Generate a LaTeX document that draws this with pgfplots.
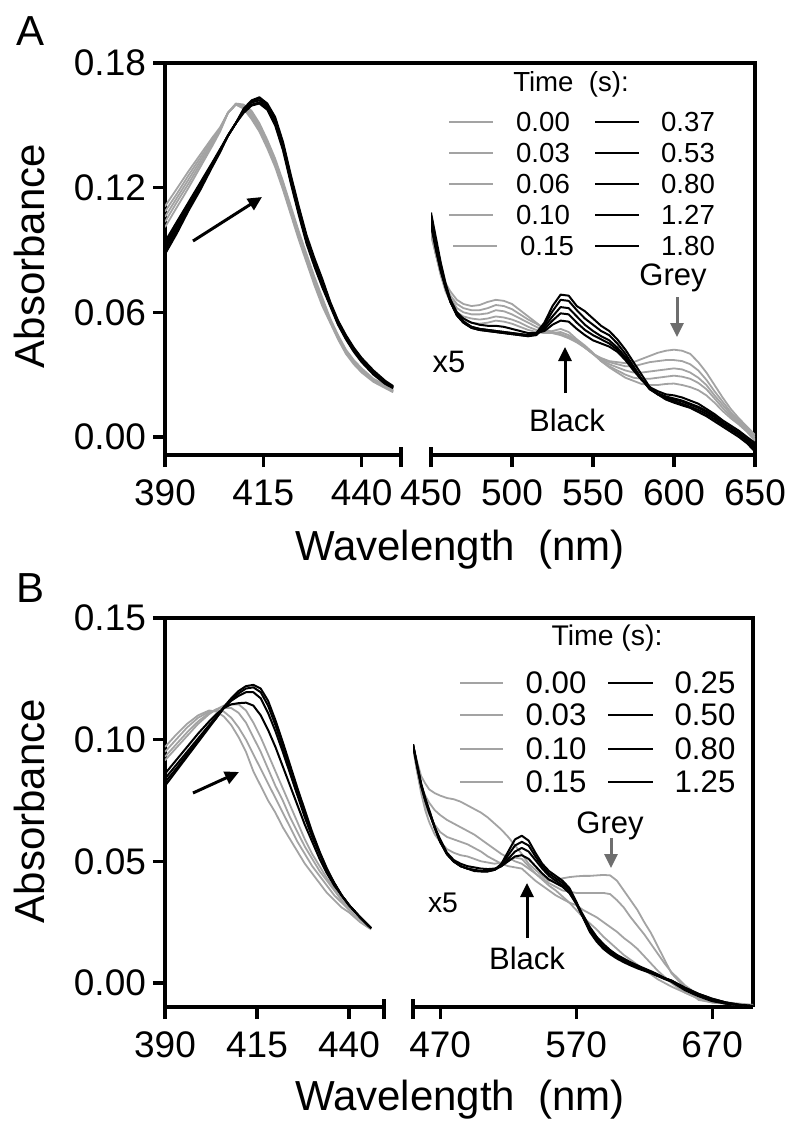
\documentclass[border=0pt]{standalone}
\usepackage{fontspec}
\setmainfont{Liberation Sans}
\usepackage{pgfplots}
\usepackage{pgfplotstable}
\pgfplotsset{compat=1.18}
\usetikzlibrary{arrows.meta}

\definecolor{gcurve}{HTML}{A3A3A3}
\definecolor{garrow}{HTML}{6E6E6E}

% panel A, Soret region
\pgfplotstableread{
l   g1    g2    g3    g4    g5    k1    k2    k3    k4    k5
390 .111  .1085 .106  .1035 .101  .094  .0925 .091  .0895 .088
393 .1195 .117  .115  .113  .1105 .1035 .102  .101  .0995 .098
396 .128  .126  .124  .122  .120  .113  .112  .111  .110  .109
399 .136  .1345 .133  .1315 .130  .1225 .122  .121  .120  .119
402 .144  .143  .142  .141  .140  .132  .1315 .131  .1305 .130
404 .149  .1485 .148  .1475 .147  .1385 .138  .138  .1375 .137
406 .156  .156  .156  .156  .156  .145  .145  .145  .145  .145
408 .160  .160  .160  .160  .1605 .151  .151  .151  .151  .151
410 .158  .1585 .159  .1595 .160  .156  .1565 .157  .1575 .158
412 .153  .154  .155  .156  .157  .1595 .160  .161  .1615 .162
414 .147  .148  .149  .150  .151  .1605 .161  .162  .163  .1635
416 .139  .140  .141  .142  .143  .1575 .158  .159  .160  .1605
418 .130  .131  .132  .133  .134  .150  .151  .152  .153  .154
420 .119  .120  .121  .122  .123  .138  .139  .140  .141  .142
422 .107  .108  .109  .110  .111  .122  .123  .124  .125  .126
424 .095  .096  .097  .098  .099  .107  .108  .109  .110  .111
426 .084  .085  .086  .087  .088  .093  .094  .095  .096  .097
428 .073  .074  .075  .076  .077  .082  .083  .084  .085  .086
430 .063  .064  .065  .066  .067  .072  .073  .074  .075  .076
432 .055  .0555 .056  .0565 .057  .063  .0635 .064  .0645 .065
434 .047  .0475 .048  .0485 .049  .054  .0545 .055  .0555 .056
436 .040  .0405 .041  .0415 .042  .047  .0475 .048  .0485 .049
438 .035  .0355 .036  .0365 .037  .041  .0415 .042  .0425 .043
440 .031  .0315 .032  .0325 .033  .036  .0365 .037  .0375 .038
443 .0265 .027  .027  .0275 .028  .030  .0305 .031  .0315 .032
446 .0235 .024  .024  .0245 .025  .0255 .0258 .026  .0265 .027
448 .0215 .022  .022  .0225 .023  .0235 .0238 .024  .0242 .0245
}\tAleft

% panel A, visible region (x5)
\pgfplotstableread{
l   g1    g2    g3    g4    g5    k1    k2    k3    k4    k5
450 .097  .098  .099  .100  .101  .102  .103  .105  .106  .108
453 .088  .088  .088  .088  .088  .090  .091  .093  .094  .096
456 .080  .080  .079  .078  .078  .080  .080  .081  .082  .084
459 .074  .073  .072  .071  .070  .072  .072  .072  .073  .074
462 .070  .068  .067  .066  .065  .066  .065  .065  .065  .066
466 .066  .064  .062  .060  .059  .060  .059  .0585 .0585 .059
470 .064  .062  .060  .058  .056  .057  .0555 .055  .055  .0555
475 .063  .061  .059  .057  .055  .055  .053  .0525 .0525 .053
480 .0635 .061  .059  .0565 .0545 .054  .052  .0515 .0515 .052
485 .065  .062  .0595 .057  .055  .0535 .0515 .051  .051  .0515
490 .066  .0635 .061  .058  .056  .0535 .051  .0505 .0505 .051
495 .0655 .063  .0605 .0575 .0555 .053  .0505 .050  .050  .0505
500 .064  .0615 .059  .0565 .0545 .052  .050  .0495 .0495 .050
505 .061  .059  .057  .055  .053  .051  .0495 .049  .049  .0495
510 .058  .0565 .055  .053  .0515 .050  .049  .0485 .0485 .049
515 .055  .0545 .053  .0515 .0505 .050  .0495 .049  .0495 .050
520 .052  .052  .051  .050  .050  .051  .052  .053  .054  .055
525 .050  .0505 .050  .050  .051  .054  .056  .058  .0605 .063
530 .049  .0495 .0495 .0505 .052  .056  .0595 .0625 .066  .0685
535 .0475 .048  .048  .049  .0505 .0555 .059  .062  .0655 .068
540 .0455 .046  .046  .0465 .047  .052  .055  .058  .061  .063
545 .043  .043  .043  .0435 .044  .049  .0515 .054  .057  .0605
550 .040  .040  .040  .040  .0405 .0465 .049  .051  .054  .057
555 .038  .0375 .037  .0365 .0365 .045  .047  .0485 .051  .0535
560 .0365 .036  .035  .034  .0335 .0435 .045  .0465 .049  .051
565 .036  .035  .0335 .032  .031  .041  .042  .043  .045  .047
570 .0355 .034  .032  .030  .0285 .037  .038  .0385 .040  .042
575 .036  .034  .031  .0285 .027  .032  .0325 .033  .034  .036
580 .0375 .035  .031  .028  .0255 .0275 .0275 .0278 .028  .030
585 .039  .036  .0315 .028  .025  .024  .0235 .023  .023  .024
590 .0405 .0365 .032  .0285 .025  .022  .021  .0205 .0205 .0205
595 .0415 .037  .0325 .029  .0255 .0205 .0195 .019  .0185 .018
600 .042  .037  .033  .0295 .0257 .020  .0185 .018  .0172 .0165
605 .0415 .0365 .0325 .029  .025  .019  .0175 .017  .016  .0152
610 .040  .035  .031  .028  .024  .0175 .016  .0155 .0145 .014
615 .036  .032  .0285 .026  .0225 .016  .0145 .014  .013  .012
620 .031  .0275 .025  .023  .020  .0135 .0125 .012  .011  .010
625 .025  .022  .020  .0185 .0165 .011  .010  .0095 .0085 .0075
630 .019  .017  .0155 .014  .0125 .008  .007  .0065 .006  .005
635 .0135 .012  .011  .010  .009  .0055 .0045 .004  .0035 .0025
640 .009  .008  .007  .0065 .006  .003  .002  .0015 .001  .000
645 .005  .004  .0035 .003  .0025 .000  -.001 -.0015 -.002 -.003
650 .001  .000  -.001 -.0015 -.002 -.003 -.004 -.005 -.006 -.007
}\tAright

% panel B, Soret region
\pgfplotstableread{
l   g1    g2    g3    g4    k1    k2    k3    k4
390 .097  .095  .093  .0915 .086  .084  .0825 .081
393 .102  .100  .098  .0965 .0915 .0895 .088  .087
396 .1065 .105  .103  .1015 .097  .095  .094  .093
399 .110  .109  .1075 .1065 .1025 .1005 .0995 .099
402 .112  .1115 .111  .1105 .1075 .106  .1055 .105
404 .1115 .112  .1125 .1125 .1105 .1095 .109  .109
406 .1095 .1115 .113  .114  .113  .113  .113  .1135
408 .106  .109  .113  .1145 .1145 .116  .1165 .117
410 .101  .105  .111  .1145 .115  .118  .119  .120
412 .095  .100  .107  .112  .1152 .1195 .121  .122
414 .087  .094  .101  .107  .114  .1195 .1215 .1225
416 .081  .088  .095  .101  .110  .117  .1195 .121
418 .075  .082  .088  .094  .104  .111  .114  .116
420 .070  .076  .081  .087  .097  .1035 .106  .108
422 .064  .070  .075  .080  .089  .095  .097  .099
424 .059  .064  .068  .073  .081  .086  .088  .0895
426 .054  .058  .062  .066  .073  .077  .079  .080
428 .049  .053  .056  .059  .065  .068  .070  .071
430 .045  .048  .051  .053  .058  .060  .061  .062
432 .041  .044  .046  .048  .051  .053  .0535 .054
434 .037  .040  .042  .043  .045  .046  .0465 .047
436 .034  .036  .038  .039  .040  .041  .041  .041
438 .031  .033  .034  .035  .036  .036  .036  .036
440 .029  .030  .031  .032  .032  .032  .032  .032
443 .025  .026  .027  .027  .027  .027  .027  .027
446 .022  .0225 .0225 .0225 .0225 .0225 .0225 .0225
}\tBleft

% panel B, visible region (x5)
\pgfplotstableread{
l   g1    g2    g3    g4    k1    k2    k3    k4
450 .098  .097  .097  .097  .098  .098  .098  .098
453 .091  .088  .087  .087  .089  .089  .0895 .090
456 .085  .081  .079  .078  .081  .081  .0815 .082
459 .082  .077  .073  .071  .075  .075  .0755 .076
462 .0795 .074  .069  .066  .070  .070  .0705 .071
466 .078  .071  .065  .061  .064  .0635 .064  .064
470 .077  .069  .062  .058  .059  .058  .058  .058
475 .076  .067  .060  .055  .0535 .053  .053  .0528
480 .0755 .0655 .059  .0535 .0505 .050  .050  .0498
485 .0745 .064  .058  .0525 .049  .048  .048  .048
490 .073  .0625 .057  .052  .048  .047  .047  .047
495 .0715 .061  .0555 .051  .0475 .0465 .0463 .046
500 .070  .059  .054  .050  .047  .046  .046  .0458
505 .068  .057  .052  .0495 .0468 .046  .046  .0458
510 .0655 .055  .0505 .049  .047  .0465 .0465 .0465
515 .063  .053  .049  .0495 .048  .048  .0485 .049
520 .060  .0515 .048  .0505 .050  .051  .0525 .054
525 .0565 .050  .0475 .0515 .052  .054  .0565 .059
530 .053  .049  .047  .051  .0525 .0555 .058  .0605
535 .049  .047  .0445 .048  .051  .054  .0565 .0585
540 .0465 .045  .042  .045  .048  .0505 .052  .0535
545 .044  .043  .040  .0425 .045  .047  .048  .049
550 .042  .041  .038  .040  .0425 .044  .045  .046
555 .0425 .0395 .036  .038  .041  .042  .043  .044
560 .043  .038  .0345 .0355 .0395 .040  .041  .042
565 .0435 .0375 .033  .033  .037  .037  .038  .039
570 .0438 .037  .032  .030  .033  .0325 .033  .0335
575 .044  .037  .030  .027  .028  .027  .027  .027
580 .044  .037  .0285 .0245 .023  .022  .0215 .021
585 .0442 .037  .027  .022  .019  .018  .0175 .017
590 .0444 .037  .025  .019  .016  .015  .0145 .014
595 .0442 .0365 .023  .0165 .0135 .0127 .0122 .0118
600 .042  .034  .021  .014  .0115 .011  .0105 .010
605 .038  .031  .0185 .0115 .010  .0095 .009  .0085
610 .034  .027  .0164 .0095 .0085 .008  .0076 .0072
615 .030  .0235 .014  .0075 .0072 .0068 .0064 .006
620 .025  .020  .011  .0055 .006  .0056 .0053 .005
625 .0205 .016  .008  .0035 .0048 .0045 .0042 .004
630 .015  .012  .005  .0015 .0035 .0033 .003  .0028
635 .0095 .008  .0025 .000  .002  .002  .0018 .0016
640 .004  .0045 .000  -.0015 .001 .001  .0008 .0005
650 -.002 -.001 -.004 -.004 -.002 -.002 -.0025 -.003
660 -.007 -.005 -.0065 -.0065 -.0045 -.0045 -.005 -.0055
670 -.008 -.007 -.008 -.008 -.0065 -.0065 -.007 -.0075
680 -.0085 -.008 -.0085 -.0085 -.008 -.008 -.0085 -.0085
690 -.009 -.0085 -.009 -.009 -.009 -.009 -.009 -.0092
700 -.0092 -.009 -.0095 -.0095 -.0095 -.0095 -.0095 -.0097
}\tBright

\pgfplotsset{
  spec/.style={
    scale only axis,
    tick align=outside,
    major tick length=6pt,
    tick style={black, line width=1.6pt},
    axis line style={line width=1.6pt, -},
    every inner x axis line/.append style={-},
    every inner y axis line/.append style={-},
    every outer x axis line/.append style={-},
    every outer y axis line/.append style={-},
    tick label style={font=\fontsize{18.5}{20}\selectfont},
    xticklabel style={yshift=-3pt},
    every axis plot/.append style={no markers, line join=round},
  },
  gl/.style={gcurve, line width=0.9pt},
  kl/.style={black, line width=1pt},
}

\tikzset{
  lab/.style={font=\fontsize{21}{24}\selectfont},
  leg/.style={font=\fontsize{13.8}{15}\selectfont},
  ann/.style={font=\fontsize{15.5}{17}\selectfont},
  arr/.style={line width=1.5pt, -{Triangle[length=7pt,width=6.5pt]}},
}

\begin{document}
\begin{tikzpicture}[x=0.5pt, y=-0.5pt]
\path[use as bounding box] (0,0) rectangle (800,1136);

%%%%%%%%%% panel A
\begin{axis}[spec, at={(82.5pt,-227.5pt)}, anchor=south west,
  width=118pt, height=196pt,
  xmin=390, xmax=450, ymin=-0.0087, ymax=0.18,
  axis lines*=left,
  xtick={390,415,440}, xticklabels={390,415,440},
  ytick={0,0.06,0.12,0.18}, yticklabels={0.00,0.06,0.12,0.18}]
\foreach \c in {g1,g2,g3,g4,g5} {\addplot[gl] table[x=l,y=\c]{\tAleft};}
\foreach \c in {k1,k2,k3,k4,k5} {\addplot[kl] table[x=l,y=\c]{\tAleft};}
\end{axis}

\begin{axis}[spec, at={(215.5pt,-227.5pt)}, anchor=south west,
  width=162pt, height=196pt,
  xmin=450, xmax=650, ymin=-0.0087, ymax=0.18,
  axis x line*=bottom, axis y line*=right,
  xtick={450,500,550,600,650}, xticklabels={450,500,550,600,650},
  ytick=\empty]
\foreach \c in {g1,g2,g3,g4,g5} {\addplot[gl] table[x=l,y=\c]{\tAright};}
\foreach \c in {k1,k2,k3,k4,k5} {\addplot[kl] table[x=l,y=\c]{\tAright};}
\end{axis}

\draw[line width=1.6pt, line cap=rect] (165,63) -- (755,63);
\draw[line width=1.6pt] (401,447) -- (401,467);
\draw[line width=1.6pt] (431,447) -- (431,467);

\node[font=\fontsize{21}{24}\selectfont] at (31,31) {A};
\node[lab, rotate=90] at (29,256) {Absorbance};
\node[lab] at (460,550) {Wavelength\ \ (nm)};

\node[leg] at (571,84) {Time\ \ (s):};
\foreach \yy/\a/\b in {122/0.00/0.37, 153/0.03/0.53, 184/0.06/0.80, 215/0.10/1.27} {
  \draw[gcurve, line width=1pt] (449,\yy) -- (493,\yy);
  \node[leg] at (543,\yy) {\a};
  \draw[black, line width=1pt] (595,\yy) -- (639,\yy);
  \node[leg] at (688,\yy) {\b};
}
\draw[gcurve, line width=1pt] (453,246) -- (497,246);
\node[leg] at (547,246) {0.15};
\draw[black, line width=1pt] (595,246) -- (639,246);
\node[leg] at (688,246) {1.80};

\draw[arr] (193,241) -- (262,197);
\node[ann] at (449,362) {x5};
\draw[arr] (565,393) -- (565,347);
\node[ann] at (567,420) {Black};
\draw[arr, garrow] (677,297) -- (677,337);
\node[ann] at (673,278) {Grey};

%%%%%%%%%% panel B
\begin{axis}[spec, at={(82.5pt,-503.5pt)}, anchor=south west,
  width=109.5pt, height=194.5pt,
  xmin=390, xmax=449.5, ymin=-0.0099, ymax=0.15,
  axis lines*=left,
  xtick={390,415,440}, xticklabels={390,415,440},
  ytick={0,0.05,0.10,0.15}, yticklabels={0.00,0.05,0.10,0.15}]
\foreach \c in {g1,g2,g3,g4} {\addplot[gl] table[x=l,y=\c]{\tBleft};}
\foreach \c in {k1,k2,k3,k4} {\addplot[kl] table[x=l,y=\c]{\tBleft};}
\end{axis}

\begin{axis}[spec, at={(206.5pt,-503.5pt)}, anchor=south west,
  width=170pt, height=194.5pt,
  xmin=450, xmax=700, ymin=-0.0099, ymax=0.15,
  axis x line*=bottom, axis y line*=right,
  xtick={470,570,670}, xticklabels={470,570,670},
  ytick=\empty]
\foreach \c in {g1,g2,g3,g4} {\addplot[gl] table[x=l,y=\c]{\tBright};}
\foreach \c in {k1,k2,k3,k4} {\addplot[kl] table[x=l,y=\c]{\tBright};}
\end{axis}

\draw[line width=1.6pt, line cap=rect] (165,618) -- (753,618);
\draw[line width=1.6pt] (384,999) -- (384,1019);
\draw[line width=1.6pt] (413,999) -- (413,1019);

\node[font=\fontsize{21}{24}\selectfont] at (31,588) {B};
\node[lab, rotate=90] at (29,811) {Absorbance};
\node[lab] at (460,1100) {Wavelength\ \ (nm)};

\node[font=\fontsize{14.2}{16}\selectfont] at (607,638) {Time (s):};
\foreach \yy/\a/\b in {683/0.00/0.25, 715/0.03/0.50, 749/0.10/0.80, 782/0.15/1.25} {
  \draw[gcurve, line width=1pt] (460,\yy) -- (503,\yy);
  \node[font=\fontsize{15.6}{17}\selectfont] at (556,\yy) {\a};
  \draw[black, line width=1pt] (608,\yy) -- (653,\yy);
  \node[font=\fontsize{15.6}{17}\selectfont] at (705,\yy) {\b};
}

\draw[arr] (193,793) -- (239,772);
\node[font=\fontsize{14.2}{16}\selectfont] at (443,903) {x5};
\draw[arr] (527,938) -- (527,883);
\node[ann] at (527,958) {Black};
\draw[arr, garrow] (611,838) -- (611,868);
\node[ann] at (610,826) {Grey};
\end{tikzpicture}
\end{document}
